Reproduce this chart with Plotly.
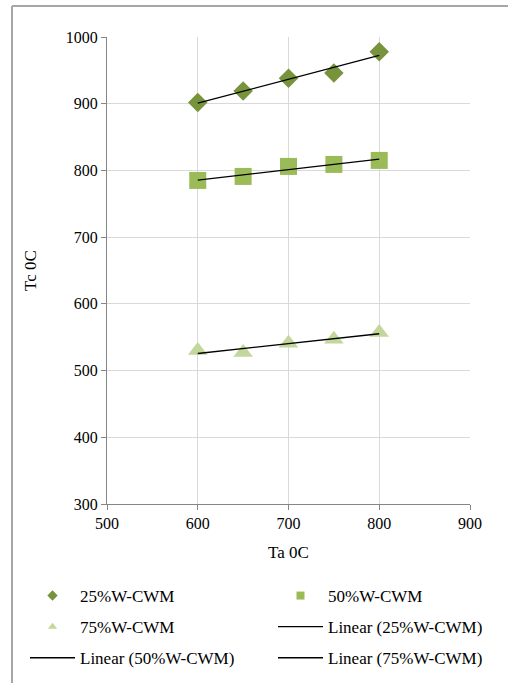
import numpy as np
import plotly.graph_objects as go

ta = [600, 650, 700, 750, 800]
tc_25 = [902, 919, 938, 946, 978]
tc_50 = [785, 791, 806, 809, 815]
tc_75 = [530, 527, 541, 547, 557]

x_ticks = [500, 600, 700, 800, 900]
y_ticks = [300, 400, 500, 600, 700, 800, 900, 1000]

names = ["25%W-CWM", "50%W-CWM", "75%W-CWM"]
series = [tc_25, tc_50, tc_75]
colors = ["#77933C", "#9BBB59", "#C3D69B"]
symbols = ["diamond", "square", "triangle-up"]
sizes = [15, 17, 17]
# legend column for each entry (markers then trendlines), as in the reference layout
marker_leg = ["legend", "legend2", "legend"]
line_leg = ["legend2", "legend", "legend2"]

W, H = 508, 683
ml, mr, mt, mb = 107, 38, 37, 179
pw, ph = W - ml - mr, H - mt - mb

FONT = "Liberation Serif"
fig = go.Figure()
for i, (n, s, c, sym, sz) in enumerate(zip(names, series, colors, symbols, sizes)):
    fig.add_trace(go.Scatter(x=ta, y=s, mode="markers", name=n, showlegend=False,
                             marker=dict(color=c, symbol=sym, size=sz, line=dict(width=0))))
    # small legend-only swatch
    fig.add_trace(go.Scatter(x=[None], y=[None], mode="markers", name=n, legend=marker_leg[i],
                             legendgroup=f"m{i}",
                             marker=dict(color=c, symbol=sym, size=8, line=dict(width=0))))
for i, (n, s) in enumerate(zip(names, series)):
    k, b = np.polyfit(ta, s, 1)
    xs = [ta[0], ta[-1]]
    fig.add_trace(go.Scatter(x=xs, y=[k * v + b for v in xs], mode="lines",
                             name=f"Linear ({n})", legend=line_leg[i], legendgroup=f"l{i}",
                             line=dict(color="#000000", width=1.3)))

def px_x(p):
    return (p - ml) / pw

def px_y(p):
    return (H - mb - p) / ph

frame = dict(color="#A6A6A6", width=2)
fig.add_shape(type="line", xref="paper", yref="paper", x0=px_x(12), x1=px_x(W + 5),
              y0=px_y(6), y1=px_y(6), line=frame)
fig.add_shape(type="line", xref="paper", yref="paper", x0=px_x(12), x1=px_x(12),
              y0=px_y(6), y1=px_y(H + 5), line=frame)

axis_common = dict(showgrid=True, gridcolor="#D9D9D9", gridwidth=1, showline=True,
                   linecolor="#868686", linewidth=1, ticks="outside", ticklen=5,
                   tickcolor="#868686", zeroline=False,
                   tickfont=dict(family=FONT, size=16, color="#000000"))
fig.update_xaxes(range=[500, 900], tickvals=x_ticks,
                 title=dict(text="Ta 0C", font=dict(family=FONT, size=17), standoff=14),
                 **axis_common)
fig.update_yaxes(range=[300, 1000], tickvals=y_ticks,
                 title=dict(text="Tc 0C", font=dict(family=FONT, size=17), standoff=24),
                 **axis_common)

leg_common = dict(orientation="v", yanchor="top", xanchor="left", tracegroupgap=6,
                  font=dict(family=FONT, size=17, color="#000000"), itemwidth=45,
                  bgcolor="rgba(0,0,0,0)", traceorder="grouped")
fig.update_layout(
    width=W, height=H,
    margin=dict(l=ml, r=mr, t=mt, b=mb, autoexpand=False),
    paper_bgcolor="white", plot_bgcolor="white",
    font=dict(family=FONT, size=16, color="#000000"),
    legend=dict(x=px_x(25), y=px_y(578), **leg_common),
    legend2=dict(x=px_x(273), y=px_y(578), **leg_common),
    showlegend=True,
)

fig.write_html("out.html")
